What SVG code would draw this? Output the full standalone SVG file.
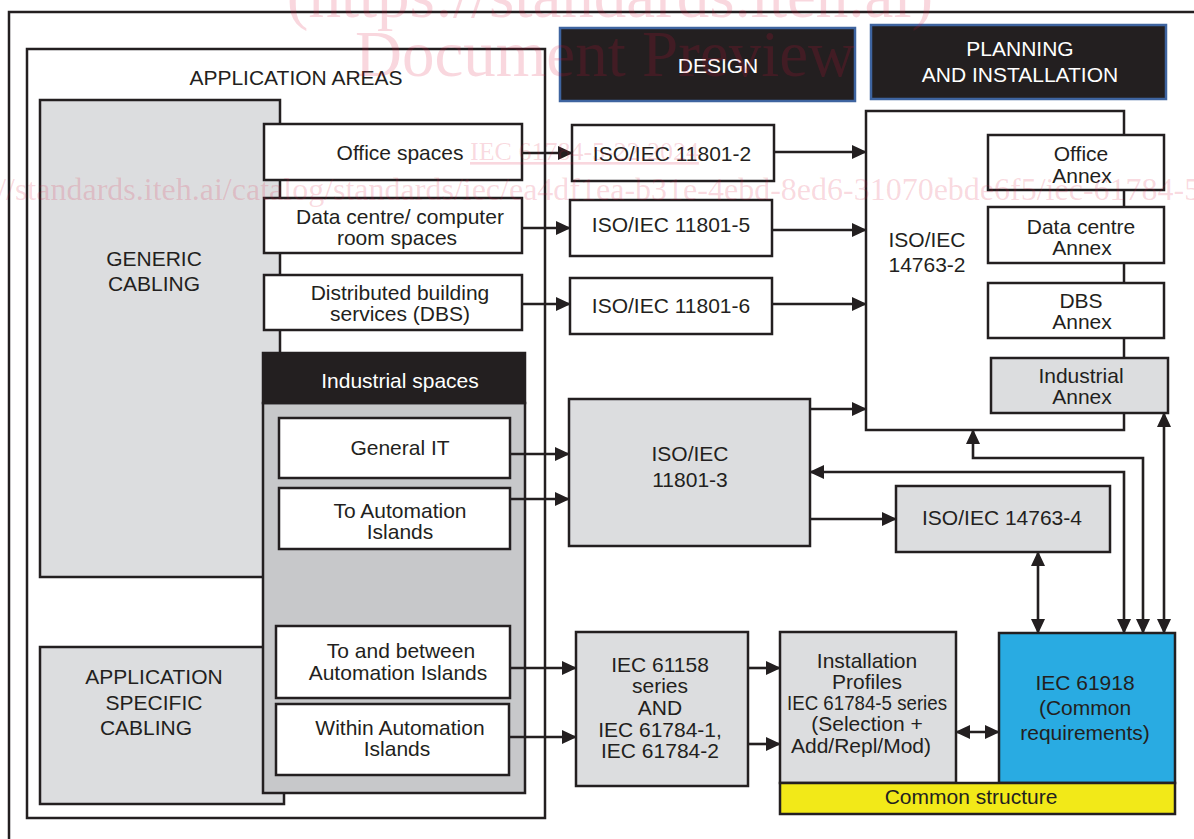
<svg xmlns="http://www.w3.org/2000/svg" width="1194" height="839" viewBox="0 0 1194 839">
<style>
.b{stroke:#231f20;stroke-width:2.5}
.w{fill:#fff}
.g{fill:#dcdddf}
.dg{fill:#c7c8ca}
.k{fill:#231f20}
.hdr{fill:#231f20;stroke:#3e64a0;stroke-width:2.5}
.bl{fill:#29abe2}
.ye{fill:#f2e918}
text{font-family:"Liberation Sans",Arial,sans-serif;font-size:21px;fill:#231f20;text-anchor:middle}
text.wt{fill:#fff}
#connectors path{stroke:#231f20;stroke-width:2.6;fill:none}
.wm text{font-family:"Liberation Serif","Times New Roman",serif;fill:#dc143c;fill-opacity:0.17}
.wm .big{font-size:65px}
.wm .mid{font-size:26px;text-anchor:start;text-decoration:underline}
.wm .url{font-size:32px;text-anchor:start}
</style>
<defs>
<marker id="ah" viewBox="0 0 15 14" refX="14" refY="7" markerWidth="15" markerHeight="14" markerUnits="userSpaceOnUse" orient="auto-start-reverse">
<path d="M0,0 L15,7 L0,14 z" fill="#231f20"/>
</marker>
</defs>
<rect width="1194" height="839" fill="#fff"/>
<g id="frame"><rect x="9" y="12" width="1250" height="900" fill="none" class="b"/></g>

<g id="application-areas">
<rect x="27" y="49" width="518" height="769" class="b w"/>
<text x="296" y="85">APPLICATION AREAS</text>
</g>
<g id="generic-cabling">
<rect x="40" y="100" width="240" height="477" class="b g"/>
<text x="154" y="266">GENERIC</text>
<text x="154" y="291">CABLING</text>
</g>
<g id="application-specific-cabling">
<rect x="40" y="647" width="244" height="157" class="b g"/>
<text x="154" y="684">APPLICATION</text>
<text x="154" y="710">SPECIFIC</text>
<text x="146" y="735">CABLING</text>
</g>
<g id="office-spaces">
<rect x="264" y="124" width="258" height="56" class="b w"/>
<text x="400" y="160">Office spaces</text>
</g>
<g id="data-centre">
<rect x="264" y="198" width="258" height="55" class="b w"/>
<text x="400" y="224">Data centre/ computer</text>
<text x="397" y="245">room spaces</text>
</g>
<g id="dbs">
<rect x="264" y="275" width="258" height="55" class="b w"/>
<text x="400" y="300">Distributed building</text>
<text x="400" y="321">services (DBS)</text>
</g>
<g id="industrial-spaces">
<rect x="263" y="403" width="262" height="390" class="b dg"/>
<rect x="263" y="353" width="262" height="50" class="b k"/>
<text class="wt" x="400" y="388">Industrial spaces</text>
</g>
<g id="general-it">
<rect x="279" y="418" width="231" height="60" class="b w"/>
<text x="400" y="455">General IT</text>
</g>
<g id="to-automation-islands">
<rect x="279" y="488" width="231" height="61" class="b w"/>
<text x="400" y="518">To Automation</text>
<text x="400" y="539">Islands</text>
</g>
<g id="to-and-between">
<rect x="276" y="626" width="234" height="72" class="b w"/>
<text x="401" y="658">To and between</text>
<text x="398" y="680">Automation Islands</text>
</g>
<g id="within-automation">
<rect x="276" y="704" width="233" height="71" class="b w"/>
<text x="400" y="735">Within Automation</text>
<text x="397" y="756">Islands</text>
</g>

<g id="design-header">
<rect x="560" y="28" width="295" height="73" class="hdr"/>
<text class="wt" x="718" y="73">DESIGN</text>
</g>
<g id="planning-header">
<rect x="871" y="25" width="295" height="74" class="hdr"/>
<text class="wt" x="1020" y="56">PLANNING</text>
<text class="wt" x="1020" y="82">AND INSTALLATION</text>
</g>
<g id="iso-11801-2">
<rect x="572" y="125" width="202" height="56" class="b w"/>
<text x="672" y="161">ISO/IEC 11801-2</text>
</g>
<g id="iso-11801-5">
<rect x="570" y="200" width="202" height="56" class="b w"/>
<text x="671" y="232">ISO/IEC 11801-5</text>
</g>
<g id="iso-11801-6">
<rect x="570" y="278" width="202" height="56" class="b w"/>
<text x="671" y="313">ISO/IEC 11801-6</text>
</g>
<g id="iso-11801-3">
<rect x="569" y="399" width="241" height="147" class="b g"/>
<text x="690" y="461">ISO/IEC</text>
<text x="690" y="487">11801-3</text>
</g>
<g id="iso-14763-4">
<rect x="896" y="486" width="214" height="66" class="b g"/>
<text x="1002" y="525">ISO/IEC 14763-4</text>
</g>
<g id="iso-14763-2">
<rect x="866" y="111" width="258" height="319" class="b w"/>
<text x="927" y="247">ISO/IEC</text>
<text x="927" y="272">14763-2</text>
</g>
<g id="office-annex">
<rect x="988" y="135" width="176" height="55" class="b w"/>
<text x="1081" y="161">Office</text>
<text x="1082" y="183">Annex</text>
</g>
<g id="data-centre-annex">
<rect x="988" y="207" width="176" height="56" class="b w"/>
<text x="1081" y="234">Data centre</text>
<text x="1082" y="255">Annex</text>
</g>
<g id="dbs-annex">
<rect x="988" y="283" width="176" height="55" class="b w"/>
<text x="1081" y="308">DBS</text>
<text x="1082" y="329">Annex</text>
</g>
<g id="industrial-annex">
<rect x="991" y="358" width="177" height="55" class="b g"/>
<text x="1081" y="383">Industrial</text>
<text x="1082" y="404">Annex</text>
</g>
<g id="iec-61158">
<rect x="576" y="632" width="172" height="154" class="b g"/>
<text x="660" y="672">IEC 61158</text>
<text x="660" y="693">series</text>
<text x="660" y="715">AND</text>
<text x="660" y="737">IEC 61784-1,</text>
<text x="660" y="758">IEC 61784-2</text>
</g>
<g id="installation-profiles">
<rect x="780" y="632" width="176" height="151" class="b g"/>
<text x="867" y="668">Installation</text>
<text x="867" y="689">Profiles</text>
<text x="867" y="710" textLength="160" lengthAdjust="spacingAndGlyphs">IEC 61784-5 series</text>
<text x="867" y="731">(Selection +</text>
<text x="861" y="753">Add/Repl/Mod)</text>
</g>
<g id="iec-61918">
<rect x="999" y="633" width="176" height="150" class="b bl"/>
<text x="1085" y="690">IEC 61918</text>
<text x="1085" y="715">(Common</text>
<text x="1085" y="740">requirements)</text>
</g>
<g id="common-structure">
<rect x="780" y="783" width="395" height="31" class="b ye"/>
<text x="971" y="804">Common structure</text>
</g>

<g id="connectors">
<path d="M522,153 H572" marker-end="url(#ah)"/>
<path d="M774,152 H866" marker-end="url(#ah)"/>
<path d="M522,228 H570" marker-end="url(#ah)"/>
<path d="M772,230 H866" marker-end="url(#ah)"/>
<path d="M522,304 H570" marker-end="url(#ah)"/>
<path d="M772,304 H866" marker-end="url(#ah)"/>
<path d="M810,409 H866" marker-end="url(#ah)"/>
<path d="M510,454 H569" marker-end="url(#ah)"/>
<path d="M510,499 H569" marker-end="url(#ah)"/>
<path d="M810,519 H896" marker-end="url(#ah)"/>
<path d="M1038,552 V633" marker-start="url(#ah)" marker-end="url(#ah)"/>
<path d="M810,472 H1124 V633" marker-start="url(#ah)" marker-end="url(#ah)"/>
<path d="M973,430 V458 H1143 V633" marker-start="url(#ah)" marker-end="url(#ah)"/>
<path d="M1164,413 V633" marker-start="url(#ah)" marker-end="url(#ah)"/>
<path d="M510,668 H576" marker-end="url(#ah)"/>
<path d="M509,737 H576" marker-end="url(#ah)"/>
<path d="M748,668 H780" marker-end="url(#ah)"/>
<path d="M748,744 H780" marker-end="url(#ah)"/>
<path d="M956,732 H999" marker-start="url(#ah)" marker-end="url(#ah)"/>
</g>

<g class="wm" id="watermark">
<text class="big" x="610" y="17">(https://standards.iteh.ai)</text>
<text class="big" x="605" y="76">Document Preview</text>
<text class="mid" x="470" y="160">IEC 61784-5-22:2024</text>
<text class="url" x="-74" y="200">https://standards.iteh.ai/catalog/standards/iec/ea4df1ea-b31e-4ebd-8ed6-31070ebde6f5/iec-61784-5-22-2024</text>
</g>
</svg>
